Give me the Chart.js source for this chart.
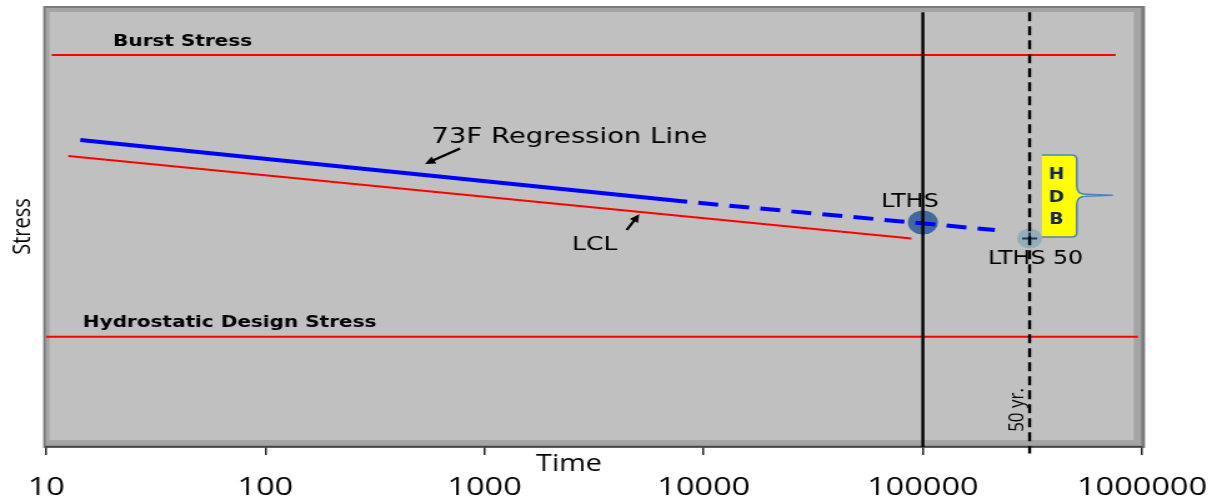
<!DOCTYPE html>
<html>
<head>
<meta charset="utf-8">
<title>Stress regression</title>
<script src="https://cdn.jsdelivr.net/npm/chart.js@4.4.0/dist/chart.umd.min.js"></script>
<style>
  html, body { margin: 0; padding: 0; background: #fff; }
  #chart { display: block; }
</style>
</head>
<body>
<!-- the original slide picture is stretched sideways, so the canvas is too -->
<canvas id="chart" width="978" height="497" style="width:1222px;height:497px"></canvas>
<script>
// time axis (hours), log scale
const timeTicks = [10, 100, 1000, 10000, 100000, 1000000];

// 73F regression line: solid over the data, dashed when extrapolated
const regTime = [14.3, 8400];
const regStress = [69.6, 55.6];
const regExtTime = [8400, 213000];
const regExtStress = [55.6, 49.2];

// lower confidence limit
const lclTime = [12.6, 88700];
const lclStress = [66.0, 47.3];

// horizontal reference stresses
const burstTime = [10.6, 758000];
const burstStress = [88.9, 88.9];
const hdsTime = [10, 957000];
const hdsStress = [25.0, 25.0];

// LTHS at 100 000 h, LTHS 50 at 50 years
const lthsTime = [100000];
const lthsStress = [50.9];
const lths50Time = [307000];
const lths50Stress = [47.3];

// vertical markers (100 000 h and 50 yr)
const markTime = [100000, 307000];
const markStress = [98.6, 0];
const markStress50 = [98.6, -1.5];

// text annotations, anchored in data units (x = hours, y = stress)
const notes = [
  {text: 'Burst Stress', x: 20.2, y: 92.3, align: 'left', size: 16, font: 'bold 16px "DejaVu Sans"'},
  {text: 'Hydrostatic Design Stress', x: 14.7, y: 28.6, align: 'left', size: 16, font: 'bold 16px "DejaVu Sans"'},
  {text: '73F Regression Line', x: 2440, y: 70.7, align: 'center', size: 22, font: '22px "DejaVu Sans"'},
  {text: 'LCL', x: 3180, y: 46.3, align: 'center', size: 20, font: '20px "DejaVu Sans"'},
  {text: 'LTHS', x: 87300, y: 56.0, align: 'center', size: 19, font: '19px "DejaVu Sans"'},
  {text: 'LTHS 50', x: 327000, y: 43.1, align: 'center', size: 19, font: '19px "DejaVu Sans"'}
];
const arrows = [
  {from: [773, 67.7], to: [535, 64.2]},
  {from: [4450, 49.2], to: [5080, 52.8]}
];
const hdb = {left: 349000, right: 504000, tip: 736000, top: 66.2, bottom: 47.6, mid: 57.1};
const hdbLetters = ['H', 'D', 'B'];
const hdbLetterX = 407000;
const hdbLetterY = [62.1, 56.7, 51.7];

const xy = (ts, ss) => ts.map((t, i) => ({x: t, y: ss[i]}));

const line = (data, color, width, order, extra) => Object.assign({
  data: data, borderColor: color, borderWidth: width, showLine: true,
  pointRadius: 0, fill: false, tension: 0, order: order
}, extra || {});

const slidePlugin = {
  id: 'slide',
  beforeDraw(chart) {
    const {ctx, chartArea: ca} = chart;
    const l = ca.left - 2.4, t = ca.top, r = ca.right + 2.4, b = ca.bottom + 1;
    ctx.save();
    ctx.fillStyle = '#7a7a7a';
    ctx.fillRect(l, t, r - l, b - t);
    ctx.fillStyle = '#a4a4a4';
    ctx.fillRect(l + 2, t + 2, r - l - 5, b - t - 4.5);
    ctx.fillStyle = '#c0c0c0';
    ctx.fillRect(l + 5, t + 6, r - l - 14, b - t - 14);
    ctx.restore();
  },
  afterDraw(chart) {
    const {ctx, chartArea: ca} = chart;
    const sx = chart.scales.x, sy = chart.scales.y;
    const px = (t, s) => [sx.getPixelForValue(t), sy.getPixelForValue(s)];
    ctx.save();

    // labels
    ctx.fillStyle = '#000';
    ctx.textBaseline = 'alphabetic';
    notes.forEach(n => {
      const [x, y] = px(n.x, n.y);
      ctx.font = n.font;
      ctx.textAlign = n.align;
      ctx.fillText(n.text, x, y + 0.36 * n.size);
    });

    // x axis title sits between the axis and the tick labels
    ctx.font = '23px "Open Sans"';
    ctx.textAlign = 'center';
    ctx.fillText('Time', sx.getPixelForValue(2430), ca.bottom + 16 + 0.36 * 23);

    // 50 yr. along the dashed line
    const [yx, yy] = px(266000, 8.4);
    ctx.save();
    ctx.translate(yx, yy);
    ctx.rotate(-Math.PI / 2);
    ctx.font = '17px "Open Sans"';
    ctx.textAlign = 'center';
    ctx.fillText('50 yr.', 0, 0.36 * 17);
    ctx.restore();

    // arrows
    ctx.strokeStyle = '#000';
    ctx.fillStyle = '#000';
    ctx.lineWidth = 2.2;
    arrows.forEach(a => {
      const [x0, y0] = px(a.from[0], a.from[1]);
      const [x1, y1] = px(a.to[0], a.to[1]);
      const ang = Math.atan2(y1 - y0, x1 - x0);
      const hl = 9;
      ctx.beginPath();
      ctx.moveTo(x0, y0);
      ctx.lineTo(x1 - Math.cos(ang) * 5, y1 - Math.sin(ang) * 5);
      ctx.stroke();
      ctx.beginPath();
      ctx.moveTo(x1, y1);
      ctx.lineTo(x1 - hl * Math.cos(ang - 0.45), y1 - hl * Math.sin(ang - 0.45));
      ctx.lineTo(x1 - hl * Math.cos(ang + 0.45), y1 - hl * Math.sin(ang + 0.45));
      ctx.closePath();
      ctx.fill();
    });

    // HDB brace callout
    const L = sx.getPixelForValue(hdb.left), R = sx.getPixelForValue(hdb.right);
    const T = sx.getPixelForValue(hdb.tip);
    const top = sy.getPixelForValue(hdb.top), bot = sy.getPixelForValue(hdb.bottom);
    const mid = sy.getPixelForValue(hdb.mid);
    const brace = () => {
      ctx.beginPath();
      ctx.moveTo(L, top);
      ctx.lineTo(R - 4, top);
      ctx.quadraticCurveTo(R, top, R, top + 5);
      ctx.lineTo(R, mid - 9);
      ctx.quadraticCurveTo(R, mid - 1, R + 7, mid - 1);
      ctx.lineTo(T, mid);
      ctx.lineTo(R + 7, mid + 1);
      ctx.quadraticCurveTo(R, mid + 1, R, mid + 9);
      ctx.lineTo(R, bot - 5);
      ctx.quadraticCurveTo(R, bot, R - 4, bot);
      ctx.lineTo(L, bot);
    };
    brace();
    ctx.closePath();
    ctx.fillStyle = '#ffff00';
    ctx.fill();
    brace();
    ctx.strokeStyle = '#4f81bd';
    ctx.lineWidth = 1.5;
    ctx.stroke();

    ctx.fillStyle = '#14275a';
    ctx.font = 'bold 15px "DejaVu Sans"';
    ctx.textAlign = 'center';
    hdbLetters.forEach((c, i) => {
      ctx.fillText(c, sx.getPixelForValue(hdbLetterX), sy.getPixelForValue(hdbLetterY[i]) + 0.36 * 15);
    });

    ctx.restore();
  }
};

new Chart(document.getElementById('chart'), {
  type: 'scatter',
  data: {
    datasets: [
      line(xy([markTime[0], markTime[0]], markStress), '#000', 2.4, 0),
      line(xy([markTime[1], markTime[1]], markStress50), '#000', 2.4, 0, {borderDash: [9, 5], clip: false}),
      line(xy(regTime, regStress), '#0000ff', 4, 1),
      line(xy(regExtTime, regExtStress), '#0000ff', 4, 1, {borderDash: [16, 9], borderDashOffset: 16}),
      line(xy(lclTime, lclStress), '#ff0000', 2, 2),
      line(xy(burstTime, burstStress), '#ff0000', 2, 2),
      line(xy(hdsTime, hdsStress), '#ff0000', 2, 2),
      {
        data: xy(lths50Time, lths50Stress), showLine: false, order: 3,
        pointStyle: 'cross', pointRadius: 6, borderColor: '#1f3864', borderWidth: 2
      },
      {
        data: xy(lthsTime, lthsStress), showLine: false, order: 4,
        pointRadius: 12, backgroundColor: '#41699b', borderWidth: 0
      },
      {
        data: xy(lths50Time, lths50Stress), showLine: false, order: 4,
        pointRadius: 10, backgroundColor: '#93adb9', borderWidth: 0
      }
    ]
  },
  options: {
    responsive: false,
    animation: false,
    layout: {autoPadding: false, padding: {top: 6, right: 64, bottom: 0, left: 0}},
    plugins: {legend: {display: false}, tooltip: {enabled: false}},
    scales: {
      x: {
        type: 'logarithmic',
        min: 10,
        max: 1000000,
        afterFit(scale) {
          scale.height = 50;
          scale.paddingLeft = 0;
          scale.paddingRight = 0;
        },
        afterBuildTicks(scale) { scale.ticks = timeTicks.map(v => ({value: v})); },
        grid: {display: true, drawOnChartArea: false, tickLength: 8, color: '#222', lineWidth: 1.5},
        border: {display: true, color: '#444', width: 1.5},
        ticks: {
          autoSkip: false,
          maxRotation: 0,
          padding: 17,
          color: '#000',
          font: {family: 'Open Sans', size: 26},
          callback: v => String(v)
        }
      },
      y: {
        min: 0,
        max: 100,
        afterFit(scale) {
          scale.width = 37;
          scale.paddingTop = 0;
          scale.paddingBottom = 0;
        },
        grid: {display: false},
        border: {display: false},
        ticks: {display: false},
        title: {display: true, text: 'Stress', color: '#000', font: {family: 'Open Sans', size: 20}, padding: {top: 6, bottom: 0}}
      }
    }
  },
  plugins: [slidePlugin]
});
</script>
</body>
</html>
